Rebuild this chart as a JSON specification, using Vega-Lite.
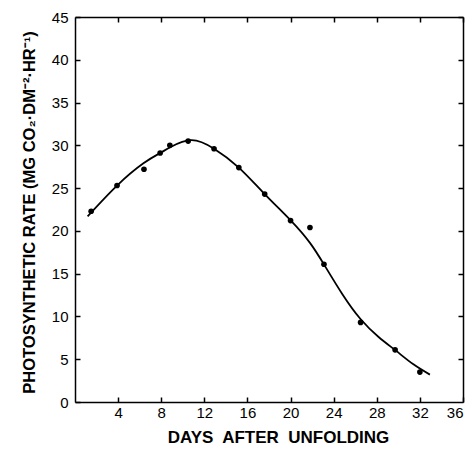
{
  "$schema": "https://vega.github.io/schema/vega-lite/v6.json",
  "autosize": {"type": "none"},
  "width": 388,
  "height": 385,
  "padding": {"left": 75, "top": 17, "right": 13, "bottom": 48},
  "background": "white",
  "config": {
    "view": {"stroke": null},
    "axis": {
      "domainColor": "black",
      "domainWidth": 1.5,
      "tickColor": "black",
      "tickWidth": 1.5,
      "grid": false,
      "labelFont": "Liberation Sans",
      "labelFontSize": 15,
      "labelColor": "black",
      "titleFont": "Liberation Sans",
      "titleFontWeight": "bold",
      "titleColor": "black",
      "titleFontSize": 15
    }
  },
  "datasets": {
    "points": [
      {"day": 1.5, "rate": 22.3},
      {"day": 3.9, "rate": 25.3},
      {"day": 6.4, "rate": 27.2},
      {"day": 7.9, "rate": 29.1},
      {"day": 8.8, "rate": 30.0},
      {"day": 10.5, "rate": 30.5},
      {"day": 12.9, "rate": 29.6},
      {"day": 15.2, "rate": 27.4},
      {"day": 17.6, "rate": 24.3},
      {"day": 20.0, "rate": 21.2},
      {"day": 21.8, "rate": 20.4},
      {"day": 23.1, "rate": 16.1},
      {"day": 26.5, "rate": 9.3},
      {"day": 29.7, "rate": 6.1},
      {"day": 32.0, "rate": 3.5}
    ],
    "curve": [
      {"day": 1.17, "rate": 21.7},
      {"day": 3.9, "rate": 25.3},
      {"day": 6.35, "rate": 27.9},
      {"day": 7.9, "rate": 29.1},
      {"day": 8.88, "rate": 29.8},
      {"day": 10.8, "rate": 30.6},
      {"day": 12.9, "rate": 29.6},
      {"day": 15.2, "rate": 27.4},
      {"day": 17.6, "rate": 24.3},
      {"day": 20.03, "rate": 21.2},
      {"day": 21.8, "rate": 18.6},
      {"day": 23.14, "rate": 16.0},
      {"day": 24.81, "rate": 12.6},
      {"day": 26.49, "rate": 9.7},
      {"day": 28.17, "rate": 7.6},
      {"day": 29.77, "rate": 6.0},
      {"day": 31.4, "rate": 4.4},
      {"day": 32.93, "rate": 3.2}
    ]
  },
  "layer": [
    {
      "data": {"name": "curve"},
      "mark": {"type": "line", "color": "black", "strokeWidth": 1.8, "interpolate": "natural"},
      "encoding": {
        "x": {
          "field": "day", "type": "quantitative",
          "scale": {"domain": [0, 36], "nice": false},
          "axis": {
            "orient": "bottom",
            "values": [4, 8, 12, 16, 20, 24, 28, 32, 36],
            "tickSize": -5,
            "labelPadding": 8,
            "title": "DAYS\u00a0 AFTER\u00a0 UNFOLDING",
            "titleFontSize": 17,
            "titlePadding": 9,
            "titleX": 203
          }
        },
        "y": {
          "field": "rate", "type": "quantitative",
          "scale": {"domain": [0, 45], "nice": false},
          "axis": {
            "orient": "left",
            "values": [0, 5, 10, 15, 20, 25, 30, 35, 40, 45],
            "tickSize": -5,
            "labelPadding": 12,
            "title": "PHOTOSYNTHETIC RATE (MG CO\u2082\u00b7DM\u207b\u00b2\u00b7HR\u207b\u00b9)",
            "titleFontSize": 16.5,
            "titlePadding": 14,
            "titleY": 195
          }
        }
      }
    },
    {
      "data": {"name": "points"},
      "mark": {"type": "circle", "color": "black", "opacity": 1, "size": 32},
      "encoding": {
        "x": {
          "field": "day", "type": "quantitative",
          "axis": {
            "orient": "top",
            "values": [4, 8, 12, 16, 20, 24, 28, 32, 36],
            "tickSize": -5,
            "labels": false,
            "title": null
          }
        },
        "y": {
          "field": "rate", "type": "quantitative",
          "axis": {
            "orient": "right",
            "values": [5, 10, 15, 20, 25, 30, 35, 40, 45],
            "tickSize": -5,
            "labels": false,
            "title": null
          }
        }
      }
    }
  ],
  "resolve": {"axis": {"x": "independent", "y": "independent"}}
}
